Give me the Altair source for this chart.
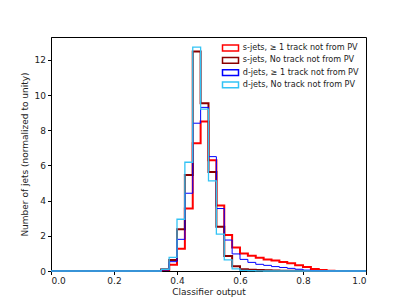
import altair as alt
import pandas as pd

edges = [round(i * 0.025, 3) for i in range(41)]

series_names = [
    "s-jets,  \u2265 1 track not from PV",
    "s-jets, No track not from PV",
    "d-jets,  \u2265 1 track not from PV",
    "d-jets, No track not from PV",
]
colors = ["#ff0000", "#8b0000", "#0000ff", "#33c3f5"]
widths = [2.0, 2.0, 1.0, 1.3]

z14 = [0.0] * 14
s_ge1 = z14 + [0.05, 0.35, 1.27, 3.55, 7.26, 8.5, 6.3, 3.72, 2.05, 1.33, 1.0, 0.87, 0.76, 0.66,
               0.6, 0.51, 0.44, 0.32, 0.23, 0.11, 0.05, 0.02, 0.0, 0.0, 0.0, 0.0]
s_no = z14 + [0.1, 0.63, 2.37, 5.46, 12.48, 9.54, 5.63, 2.52, 0.85, 0.27, 0.1, 0.07, 0.05, 0.04,
              0.03, 0.02, 0.02, 0.01, 0.0, 0.0, 0.0, 0.0, 0.0, 0.0, 0.0, 0.0]
d_ge1 = z14 + [0.06, 0.53, 1.8, 4.42, 8.4, 9.3, 6.5, 3.55, 1.76, 0.97, 0.66, 0.49, 0.38, 0.32,
               0.25, 0.2, 0.15, 0.1, 0.05, 0.02, 0.01, 0.0, 0.0, 0.0, 0.0, 0.0]
d_no = z14 + [0.1, 0.78, 2.94, 6.18, 12.72, 9.2, 5.12, 2.1, 0.63, 0.12, 0.04, 0.02, 0.01, 0.0,
              0.0, 0.0, 0.0, 0.0, 0.0, 0.0, 0.0, 0.0, 0.0, 0.0, 0.0, 0.0]

all_series = [s_ge1, s_no, d_ge1, d_no]

rows = []
for k, (name, vals) in enumerate(zip(series_names, all_series)):
    for i, v in enumerate(vals):
        rows.append({"series": name, "order": k, "sw": widths[k], "x": edges[i], "y": v})
    rows.append({"series": name, "order": k, "sw": widths[k], "x": edges[-1], "y": vals[-1]})
df = pd.DataFrame(rows)

font = "DejaVu Sans"

chart = alt.Chart(df).mark_line(interpolate="step-after", strokeJoin="miter", strokeCap="butt").encode(
    x=alt.X("x:Q", scale=alt.Scale(domain=[0, 1], nice=False, zero=False),
            axis=alt.Axis(title="Classifier output", values=[0, 0.2, 0.4, 0.6, 0.8, 1.0],
                          format=".1f", grid=False, tickSize=3.5, labelPadding=2,
                          titlePadding=2)),
    y=alt.Y("y:Q", scale=alt.Scale(domain=[0, 13.3], nice=False),
            axis=alt.Axis(title="Number of jets (normalized to unity)",
                          values=[0, 2, 4, 6, 8, 10, 12], grid=False, tickSize=3.5,
                          labelPadding=2, titlePadding=5)),
    color=alt.Color("series:N", scale=alt.Scale(domain=series_names, range=colors),
                    legend=alt.Legend(title=None, orient="none", legendX=173.5, legendY=5,
                                      symbolType="M-1.6,-0.58H1.6V0.58H-1.6Z", symbolSize=100,
                                      symbolFillColor="white", symbolStrokeWidth=1.5,
                                      labelFontSize=8.1, labelFont=font, labelOffset=6.3,
                                      rowPadding=0.3, labelColor="#222")),
    strokeWidth=alt.StrokeWidth("sw:Q", scale=None, legend=None),
    order=alt.Order("order:Q"),
    detail="series:N",
).properties(
    width=315, height=234,
    autosize=alt.AutoSizeParams(type="none"),
    padding={"left": 43, "top": 29, "right": 33, "bottom": 26},
).configure_view(
    stroke="black", strokeWidth=1
).configure_axis(
    domainColor="black", tickColor="black", labelColor="#222", titleColor="#222",
    labelFont=font, titleFont=font, labelFontSize=9, titleFontSize=9,
    titleFontWeight="normal", domainWidth=1, tickWidth=1
)

chart.save("out.html", embed_options={"renderer": "svg", "actions": False})
